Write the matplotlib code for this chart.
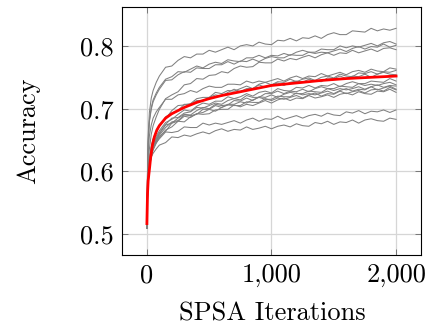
import matplotlib
matplotlib.use("Agg")
import matplotlib.pyplot as plt
from matplotlib.ticker import FuncFormatter

plt.rcParams['font.family'] = 'cmr10'
plt.rcParams['mathtext.fontset'] = 'cm'
plt.rcParams['axes.formatter.use_mathtext'] = True
plt.rcParams['font.size'] = 19

# SPSA iteration grid shared by all runs
iters = [0, 5, 10, 20, 35, 50, 75, 100, 150, 200, 250, 300, 350, 400, 450, 500,
         550, 600, 650, 700, 750, 800, 850, 900, 950, 1000, 1050, 1100, 1150, 1200,
         1250, 1300, 1350, 1400, 1450, 1500, 1550, 1600, 1650, 1700, 1750, 1800,
         1850, 1900, 1950, 2000]

# accuracy of the individual runs (grey)
run_01 = [0.510, 0.605, 0.656, 0.694, 0.717, 0.729, 0.742, 0.752, 0.766, 0.768, 0.777, 0.783, 0.781, 0.787, 0.787, 0.793, 0.790, 0.794, 0.798, 0.794, 0.800, 0.802, 0.800, 0.806, 0.803, 0.802, 0.809, 0.808, 0.812, 0.808, 0.813, 0.812, 0.816, 0.812, 0.818, 0.821, 0.818, 0.818, 0.824, 0.823, 0.822, 0.828, 0.824, 0.827, 0.825, 0.828]
run_02 = [0.510, 0.599, 0.646, 0.681, 0.702, 0.714, 0.725, 0.734, 0.747, 0.751, 0.759, 0.758, 0.763, 0.768, 0.765, 0.771, 0.774, 0.772, 0.778, 0.776, 0.775, 0.781, 0.781, 0.785, 0.781, 0.785, 0.784, 0.788, 0.785, 0.790, 0.793, 0.790, 0.790, 0.795, 0.794, 0.794, 0.800, 0.797, 0.800, 0.798, 0.801, 0.804, 0.800, 0.805, 0.807, 0.803]
run_03 = [0.510, 0.597, 0.644, 0.679, 0.699, 0.711, 0.722, 0.731, 0.745, 0.746, 0.754, 0.759, 0.758, 0.765, 0.764, 0.764, 0.770, 0.770, 0.775, 0.771, 0.776, 0.775, 0.779, 0.775, 0.780, 0.783, 0.781, 0.781, 0.786, 0.785, 0.785, 0.790, 0.788, 0.790, 0.789, 0.792, 0.795, 0.791, 0.796, 0.799, 0.795, 0.799, 0.798, 0.803, 0.798, 0.801]
run_04 = [0.510, 0.573, 0.604, 0.636, 0.659, 0.673, 0.687, 0.699, 0.716, 0.722, 0.727, 0.738, 0.740, 0.748, 0.747, 0.753, 0.754, 0.759, 0.757, 0.764, 0.768, 0.766, 0.767, 0.774, 0.773, 0.773, 0.779, 0.776, 0.780, 0.778, 0.782, 0.785, 0.781, 0.786, 0.789, 0.785, 0.789, 0.788, 0.793, 0.789, 0.792, 0.795, 0.791, 0.796, 0.797, 0.794]
run_05 = [0.510, 0.586, 0.626, 0.657, 0.674, 0.685, 0.695, 0.702, 0.715, 0.715, 0.722, 0.724, 0.729, 0.726, 0.732, 0.736, 0.734, 0.734, 0.739, 0.739, 0.738, 0.744, 0.741, 0.744, 0.742, 0.745, 0.748, 0.744, 0.749, 0.752, 0.748, 0.752, 0.751, 0.756, 0.752, 0.755, 0.758, 0.754, 0.759, 0.761, 0.758, 0.763, 0.760, 0.759, 0.765, 0.763]
run_06 = [0.510, 0.565, 0.592, 0.620, 0.640, 0.652, 0.664, 0.674, 0.684, 0.697, 0.705, 0.706, 0.708, 0.716, 0.718, 0.718, 0.726, 0.724, 0.729, 0.728, 0.732, 0.736, 0.732, 0.739, 0.742, 0.738, 0.743, 0.742, 0.747, 0.743, 0.747, 0.749, 0.745, 0.750, 0.752, 0.749, 0.755, 0.752, 0.751, 0.757, 0.756, 0.759, 0.755, 0.759, 0.758, 0.761]
run_07 = [0.510, 0.564, 0.591, 0.618, 0.638, 0.650, 0.663, 0.672, 0.687, 0.693, 0.697, 0.707, 0.707, 0.713, 0.713, 0.718, 0.722, 0.720, 0.726, 0.731, 0.727, 0.732, 0.732, 0.738, 0.734, 0.738, 0.741, 0.737, 0.742, 0.744, 0.742, 0.747, 0.744, 0.743, 0.749, 0.748, 0.752, 0.748, 0.752, 0.751, 0.755, 0.750, 0.755, 0.758, 0.755, 0.754]
run_08 = [0.510, 0.562, 0.588, 0.613, 0.632, 0.644, 0.656, 0.665, 0.678, 0.683, 0.691, 0.698, 0.696, 0.704, 0.709, 0.707, 0.712, 0.712, 0.719, 0.716, 0.719, 0.724, 0.720, 0.726, 0.728, 0.725, 0.732, 0.729, 0.728, 0.734, 0.733, 0.737, 0.733, 0.737, 0.736, 0.740, 0.735, 0.740, 0.743, 0.740, 0.740, 0.744, 0.743, 0.742, 0.748, 0.744]
run_09 = [0.510, 0.561, 0.586, 0.612, 0.630, 0.642, 0.653, 0.662, 0.675, 0.685, 0.686, 0.693, 0.695, 0.702, 0.701, 0.705, 0.709, 0.707, 0.713, 0.716, 0.714, 0.721, 0.718, 0.718, 0.724, 0.724, 0.728, 0.724, 0.728, 0.727, 0.731, 0.727, 0.732, 0.735, 0.732, 0.732, 0.736, 0.735, 0.734, 0.740, 0.737, 0.739, 0.737, 0.740, 0.742, 0.738]
run_10 = [0.510, 0.560, 0.585, 0.610, 0.628, 0.639, 0.651, 0.660, 0.674, 0.677, 0.685, 0.691, 0.690, 0.697, 0.702, 0.700, 0.707, 0.705, 0.706, 0.713, 0.712, 0.717, 0.713, 0.719, 0.718, 0.722, 0.718, 0.723, 0.726, 0.724, 0.724, 0.728, 0.727, 0.726, 0.732, 0.729, 0.732, 0.730, 0.732, 0.735, 0.731, 0.735, 0.738, 0.734, 0.737, 0.736]
run_11 = [0.510, 0.559, 0.584, 0.609, 0.627, 0.638, 0.649, 0.658, 0.670, 0.679, 0.681, 0.690, 0.689, 0.691, 0.699, 0.699, 0.705, 0.702, 0.707, 0.707, 0.711, 0.709, 0.714, 0.718, 0.715, 0.715, 0.720, 0.719, 0.719, 0.725, 0.722, 0.724, 0.722, 0.725, 0.728, 0.724, 0.729, 0.732, 0.728, 0.731, 0.730, 0.735, 0.730, 0.733, 0.736, 0.731]
run_12 = [0.510, 0.559, 0.583, 0.607, 0.625, 0.636, 0.647, 0.656, 0.664, 0.677, 0.680, 0.688, 0.686, 0.692, 0.694, 0.699, 0.696, 0.702, 0.706, 0.705, 0.705, 0.711, 0.710, 0.710, 0.716, 0.713, 0.717, 0.715, 0.718, 0.721, 0.717, 0.722, 0.725, 0.720, 0.724, 0.723, 0.728, 0.724, 0.727, 0.729, 0.725, 0.730, 0.731, 0.728, 0.734, 0.730]
run_13 = [0.510, 0.558, 0.582, 0.606, 0.623, 0.634, 0.645, 0.654, 0.666, 0.671, 0.680, 0.679, 0.687, 0.692, 0.691, 0.692, 0.698, 0.699, 0.699, 0.706, 0.703, 0.707, 0.705, 0.709, 0.713, 0.709, 0.714, 0.717, 0.713, 0.717, 0.716, 0.721, 0.717, 0.719, 0.722, 0.718, 0.723, 0.725, 0.722, 0.727, 0.724, 0.723, 0.728, 0.727, 0.731, 0.726]
run_14 = [0.510, 0.566, 0.596, 0.618, 0.632, 0.639, 0.646, 0.652, 0.663, 0.662, 0.664, 0.671, 0.670, 0.670, 0.677, 0.674, 0.677, 0.675, 0.678, 0.681, 0.677, 0.682, 0.685, 0.680, 0.684, 0.683, 0.688, 0.683, 0.686, 0.689, 0.685, 0.689, 0.691, 0.688, 0.693, 0.690, 0.689, 0.695, 0.693, 0.697, 0.692, 0.696, 0.695, 0.698, 0.694, 0.698]
run_15 = [0.510, 0.562, 0.590, 0.610, 0.623, 0.629, 0.636, 0.642, 0.646, 0.655, 0.654, 0.658, 0.656, 0.660, 0.663, 0.660, 0.665, 0.668, 0.664, 0.667, 0.666, 0.671, 0.667, 0.669, 0.672, 0.668, 0.672, 0.674, 0.671, 0.676, 0.673, 0.672, 0.678, 0.676, 0.680, 0.675, 0.679, 0.678, 0.682, 0.677, 0.682, 0.684, 0.681, 0.680, 0.685, 0.683]

runs = [run_01, run_02, run_03, run_04, run_05, run_06, run_07, run_08,
        run_09, run_10, run_11, run_12, run_13, run_14, run_15]

# mean curve (red)
mean_iters = [0, 5, 10, 20, 30, 45, 60, 80, 100, 150, 200, 300, 400, 500, 600,
              700, 800, 900, 1000, 1200, 1400, 1600, 1800, 2000]
mean_acc = [0.517, 0.565, 0.585, 0.603, 0.622, 0.643, 0.655, 0.666, 0.673, 0.685,
            0.692, 0.702, 0.710, 0.716, 0.721, 0.725, 0.729, 0.733, 0.737, 0.741,
            0.745, 0.748, 0.750, 0.752]

x_ticks = [0, 1000, 2000]
y_ticks = [0.5, 0.6, 0.7, 0.8]

fig = plt.figure(figsize=(4.28, 3.28), dpi=100)
ax = fig.add_axes([0.2850, 0.2226, 0.6986, 0.7561])

for run in runs:
    ax.plot(iters, run, color='#808080', linewidth=0.75)
ax.plot(mean_iters, mean_acc, color='red', linewidth=2.0)

ax.set_xlim(-200, 2200)
ax.set_ylim(0.467, 0.862)
ax.set_xticks(x_ticks)
ax.set_yticks(y_ticks)
ax.xaxis.set_major_formatter(FuncFormatter(lambda v, p: f'{v:,.0f}'))
ax.yaxis.set_major_formatter(FuncFormatter(lambda v, p: f'{v:.1f}'))

ax.grid(True, color='#d6d6d6', linewidth=0.9)
ax.set_axisbelow(True)
ax.tick_params(direction='in', length=4, width=0.7, color='#777777',
               top=True, right=True, pad=6)
for s in ax.spines.values():
    s.set_linewidth(0.8)

fig.text(28 / 428, 1 - 131 / 328, 'Accuracy', rotation=90, ha='center', va='center')
fig.text(272 / 428, 1 - 314 / 328, 'SPSA Iterations', ha='center', va='center')

fig.savefig('out.png', dpi=100)
